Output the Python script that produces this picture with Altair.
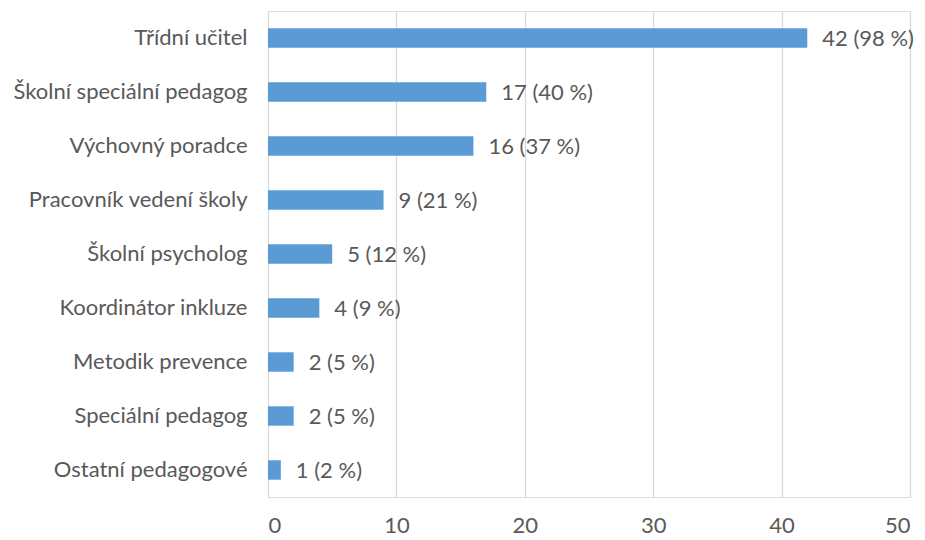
import altair as alt
import pandas as pd

categories = ["Třídní učitel", "Školní speciální pedagog", "Výchovný poradce",
              "Pracovník vedení školy", "Školní psycholog", "Koordinátor inkluze",
              "Metodik prevence", "Speciální pedagog", "Ostatní pedagogové"]
counts = [42, 17, 16, 9, 5, 4, 2, 2, 1]
percents = [98, 40, 37, 21, 12, 9, 5, 5, 2]

df = pd.DataFrame({
    "cat": categories,
    "count": counts,
    "label": [f"{c} ({p} %)" for c, p in zip(counts, percents)],
})

FONT = "Lato"
FS = 22
TXT = "#595959"

y = alt.Y("cat:N", sort=categories, title=None,
          scale=alt.Scale(paddingInner=0.64, paddingOuter=0.32),
          axis=alt.Axis(labelFont=FONT, labelFontSize=FS, labelColor=TXT,
                        labelPadding=21, ticks=False, domain=False, grid=False,
                        labelLimit=300))
x = alt.X("count:Q", title=None,
          scale=alt.Scale(domain=[0, 50]),
          axis=alt.Axis(values=[0, 10, 20, 30, 40, 50], labelFont=FONT, labelFontSize=FS,
                        labelColor=TXT, labelPadding=18, ticks=False, domain=False,
                        grid=True, gridColor="#d9d9d9", gridWidth=1.3))

bars = alt.Chart(df).mark_bar(color="#5B9BD5").encode(x=x, y=y)
text = alt.Chart(df).mark_text(align="left", baseline="middle", dx=15, dy=1,
                               font=FONT, fontSize=FS, color=TXT).encode(
    x="count:Q", y=alt.Y("cat:N", sort=categories), text="label:N")

chart = (bars + text).properties(
    width=642, height=486,
    autosize=alt.AutoSizeParams(type="none"),
    padding={"left": 260, "top": 3, "right": 7, "bottom": 40},
).configure_view(stroke=None).configure(background="white")

chart.save("out.html", embed_options={"renderer": "svg", "actions": False})
